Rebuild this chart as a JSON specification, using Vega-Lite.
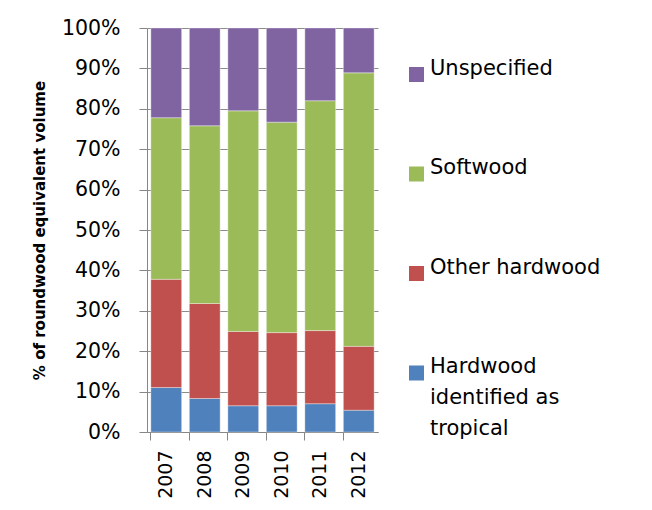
{
  "$schema": "https://vega.github.io/schema/vega-lite/v6.json",
  "width": 231,
  "height": 404,
  "autosize": "none",
  "padding": {"left": 147, "top": 28, "right": 274, "bottom": 78},
  "background": "white",
  "config": {
    "view": {"stroke": null},
    "font": "DejaVu Sans",
    "style": {"guide-label": {"lineHeight": 31}}
  },
  "data": {
    "values": [
      {"year": "2007", "type": "Hardwood identified as tropical", "share": 11.0},
      {"year": "2007", "type": "Other hardwood", "share": 26.8},
      {"year": "2007", "type": "Softwood", "share": 40.0},
      {"year": "2007", "type": "Unspecified", "share": 22.2},
      {"year": "2008", "type": "Hardwood identified as tropical", "share": 8.3},
      {"year": "2008", "type": "Other hardwood", "share": 23.5},
      {"year": "2008", "type": "Softwood", "share": 44.0},
      {"year": "2008", "type": "Unspecified", "share": 24.2},
      {"year": "2009", "type": "Hardwood identified as tropical", "share": 6.5},
      {"year": "2009", "type": "Other hardwood", "share": 18.4},
      {"year": "2009", "type": "Softwood", "share": 54.6},
      {"year": "2009", "type": "Unspecified", "share": 20.5},
      {"year": "2010", "type": "Hardwood identified as tropical", "share": 6.5},
      {"year": "2010", "type": "Other hardwood", "share": 18.1},
      {"year": "2010", "type": "Softwood", "share": 52.1},
      {"year": "2010", "type": "Unspecified", "share": 23.3},
      {"year": "2011", "type": "Hardwood identified as tropical", "share": 7.0},
      {"year": "2011", "type": "Other hardwood", "share": 18.1},
      {"year": "2011", "type": "Softwood", "share": 56.9},
      {"year": "2011", "type": "Unspecified", "share": 18.0},
      {"year": "2012", "type": "Hardwood identified as tropical", "share": 5.4},
      {"year": "2012", "type": "Other hardwood", "share": 15.8},
      {"year": "2012", "type": "Softwood", "share": 67.7},
      {"year": "2012", "type": "Unspecified", "share": 11.1}
    ]
  },
  "mark": {"type": "bar", "stroke": "white", "strokeOpacity": 0.35, "strokeWidth": 1},
  "encoding": {
    "x": {
      "field": "year",
      "type": "nominal",
      "scale": {"paddingInner": 0.2, "paddingOuter": 0.1},
      "axis": {
        "title": null,
        "labelAngle": -90,
        "labelAlign": "right",
        "labelBaseline": "middle",
        "labelFontSize": 19,
        "labelColor": "black",
        "labelPadding": 10,
        "tickSize": 8,
        "tickColor": "#868686",
        "domainColor": "#868686",
        "bandPosition": 0,
        "grid": false
      }
    },
    "y": {
      "field": "share",
      "type": "quantitative",
      "stack": "normalize",
      "scale": {"domain": [0, 1]},
      "axis": {
        "title": "% of roundwood equivalent volume",
        "titleFont": "DejaVu Sans",
        "titleFontWeight": "bold",
        "titleFontSize": 15,
        "titleColor": "black",
        "titlePadding": 14,
        "format": ".0%",
        "values": [0, 0.1, 0.2, 0.3, 0.4, 0.5, 0.6, 0.7, 0.8, 0.9, 1],
        "labelOverlap": false,
        "labelFontSize": 20.5,
        "labelColor": "black",
        "labelPadding": 19,
        "tickSize": 8,
        "tickColor": "#868686",
        "domainColor": "#868686",
        "grid": true,
        "gridColor": "#8c8c8c",
        "gridOpacity": 1
      }
    },
    "color": {
      "field": "type",
      "type": "nominal",
      "scale": {
        "domain": ["Unspecified", "Softwood", "Other hardwood", "Hardwood identified as tropical"],
        "range": ["#8064A2", "#9BBB59", "#C0504D", "#4F81BD"]
      },
      "legend": {
        "title": null,
        "orient": "none",
        "legendX": 259,
        "legendY": 36,
        "padding": 0,
        "symbolType": "square",
        "symbolSize": 225,
        "symbolStrokeWidth": 0,
        "symbolOpacity": 1,
        "labelFontSize": 21,
        "labelColor": "black",
        "labelOffset": 3,
        "labelLimit": 300,
        "labelBaseline": "alphabetic",
        "rowPadding": 74.5,
        "labelExpr": "datum.label == 'Hardwood identified as tropical' ? ['Hardwood', 'identified as', 'tropical'] : datum.label",
        "encode": {
          "labels": {"update": {"dy": {"value": 8}, "lineHeight": {"value": 31}}}
        }
      }
    },
    "order": {"field": "type", "sort": "ascending"}
  }
}
